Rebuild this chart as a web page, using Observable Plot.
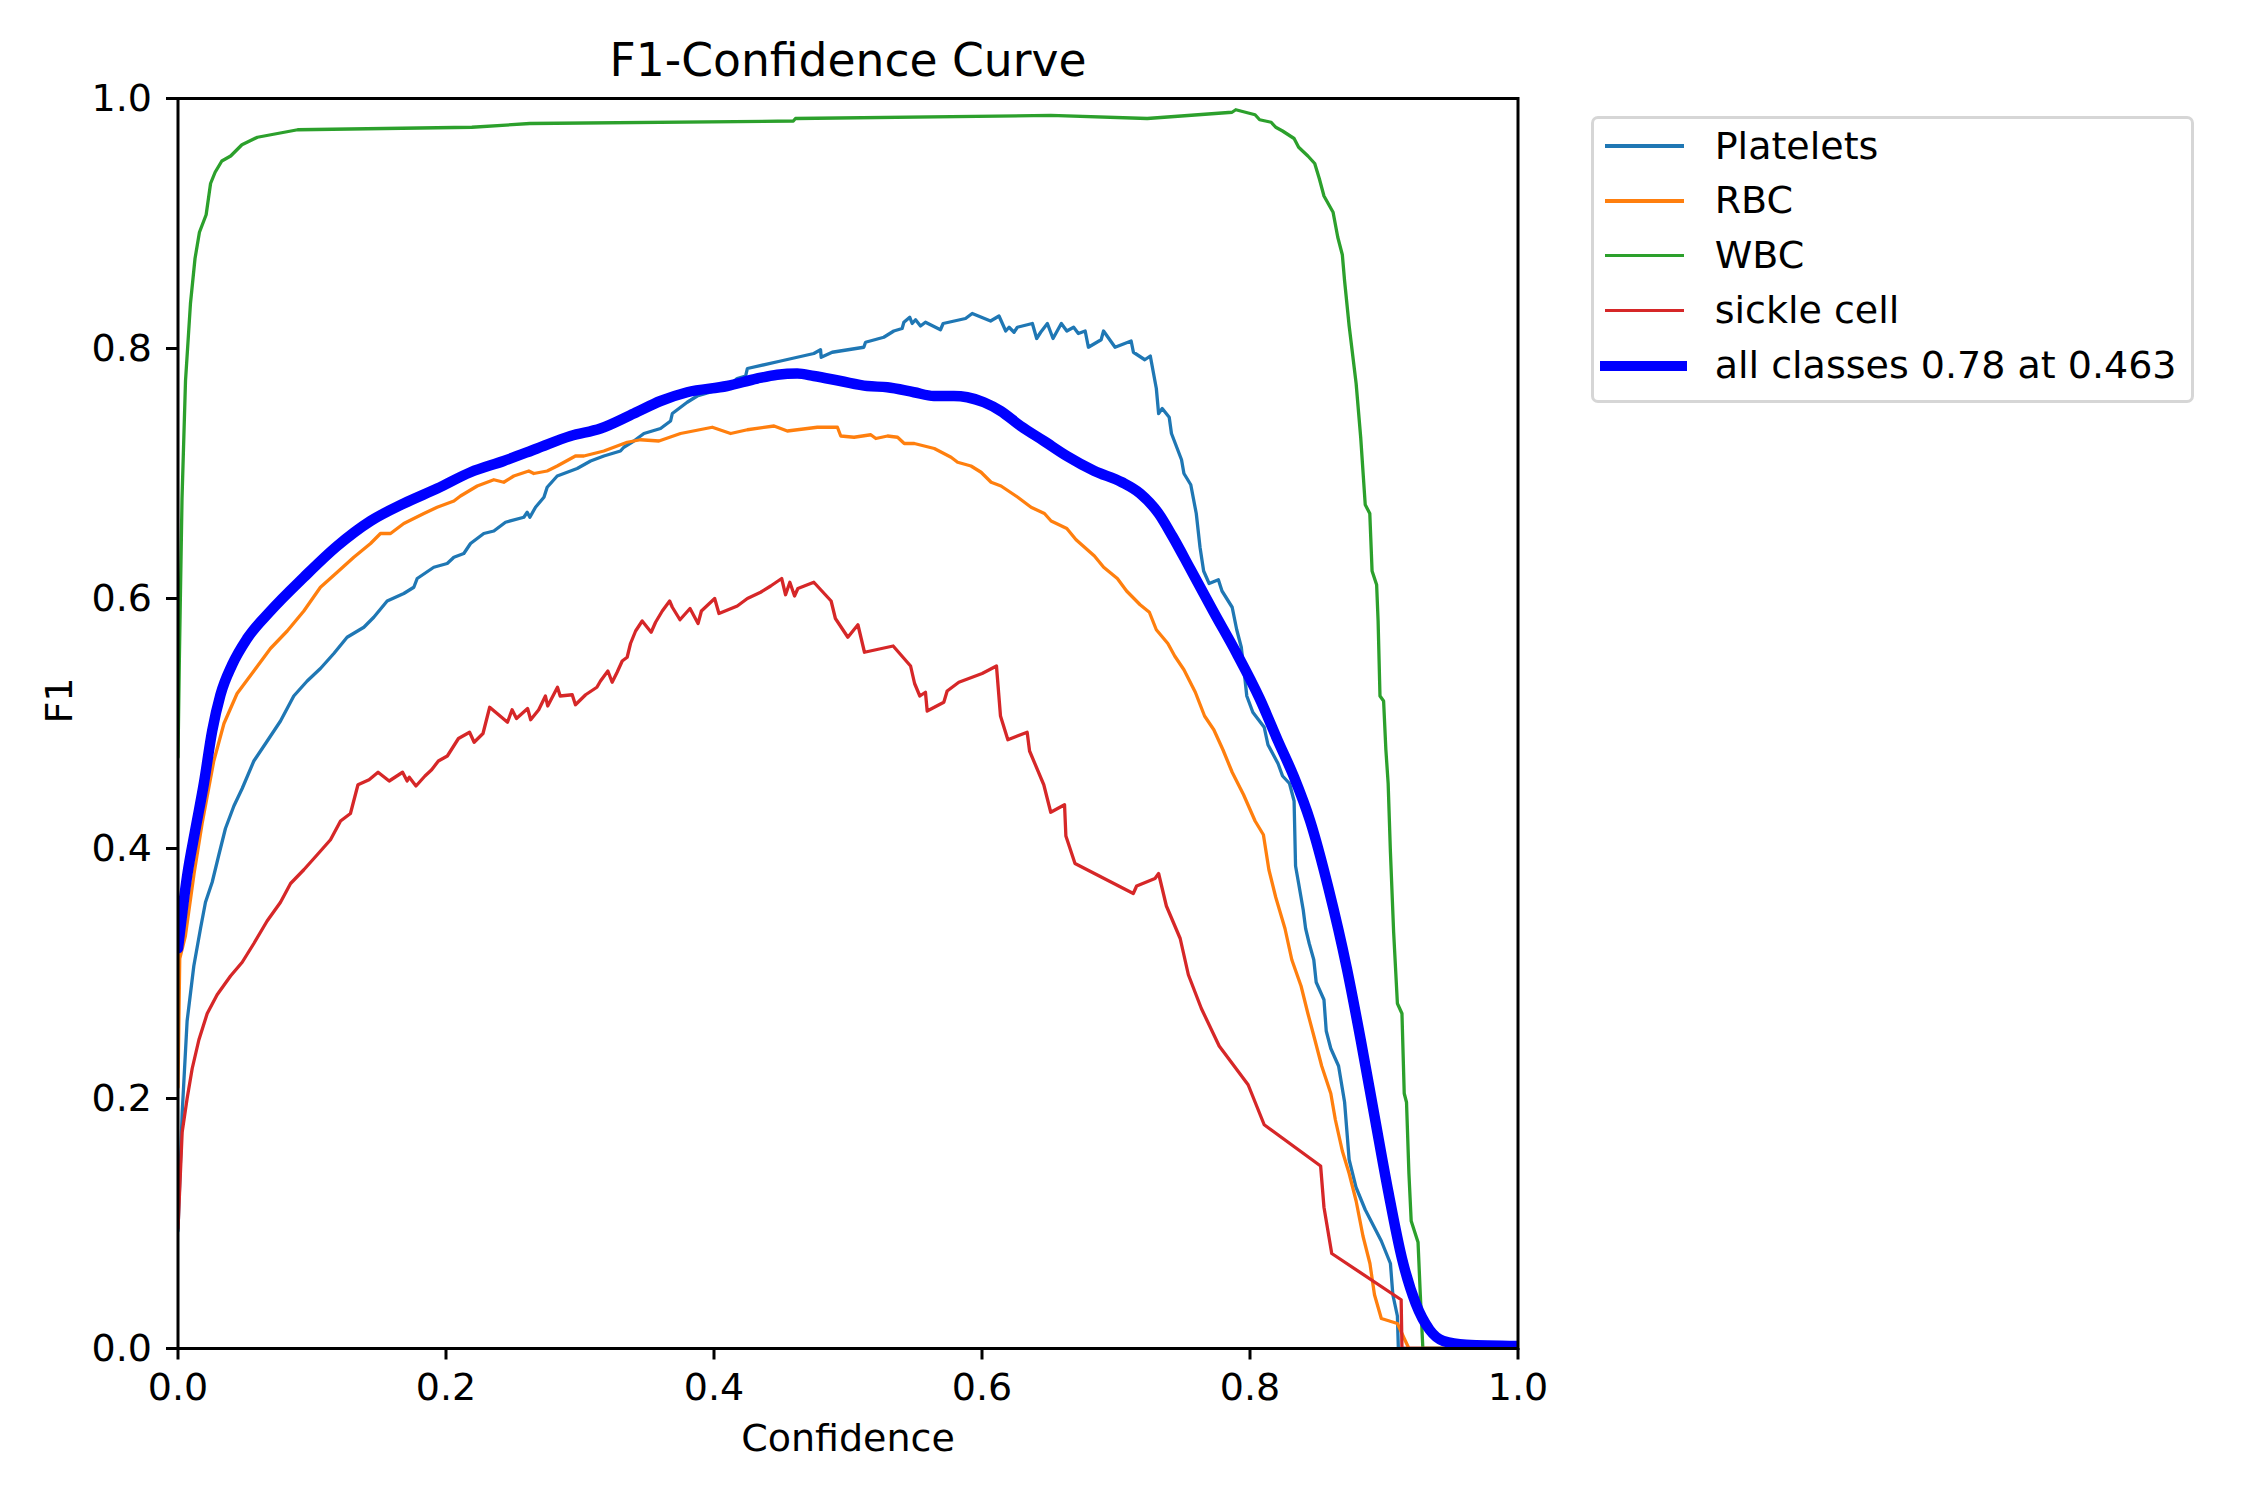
<!DOCTYPE html>
<html>
<head>
<meta charset="utf-8">
<script src="https://cdn.jsdelivr.net/npm/d3@7"></script>
<script src="https://cdn.jsdelivr.net/npm/@observablehq/plot@0.6"></script>
<style>
html, body { margin: 0; padding: 0; background: #fff; }
#wrap { position: relative; width: 2250px; height: 1500px; background: #fff; font-family: "DejaVu Sans", sans-serif; overflow: hidden; }
#wrap svg { position: absolute; left: 0; top: 0; }
#legend { position: absolute; left: 1591px; top: 116px; width: 603px; height: 287px; box-sizing: border-box; border: 3px solid #d6d6d6; border-radius: 7px; background: #fff; }
.sw { position: absolute; }
.lt { position: absolute; font-family: "DejaVu Sans", sans-serif; font-size: 38px; line-height: 38px; white-space: nowrap; color: #000; }
</style>
</head>
<body>
<div id="wrap"></div>
<script>
const titleText = "F1-Confidence Curve";
const xLabel = "Confidence";
const yLabel = "F1";
const xTicks = [0, 0.2, 0.4, 0.6, 0.8, 1.0];
const yTicks = [0, 0.2, 0.4, 0.6, 0.8, 1.0];
const seriesNames = ["Platelets", "RBC", "WBC", "sickle cell"];
const seriesColors = ["#1f77b4", "#ff7f0e", "#2ca02c", "#d62728"];
const allName = "all classes 0.78 at 0.463";
const allColor = "#0000ff";

const platelets = [[0,0.094],[0.0031,0.188],[0.0068,0.262],[0.0118,0.306],[0.0168,0.336],[0.0205,0.357],[0.0255,0.373],[0.0305,0.395],[0.0354,0.416],[0.0417,0.434],[0.0479,0.448],[0.0566,0.470],[0.0666,0.486],[0.0765,0.502],[0.0864,0.522],[0.0964,0.534],[0.1063,0.544],[0.1163,0.556],[0.1262,0.569],[0.1387,0.577],[0.1461,0.585],[0.1561,0.598],[0.1685,0.604],[0.176,0.609],[0.1785,0.616],[0.1909,0.625],[0.2009,0.628],[0.2059,0.633],[0.2133,0.636],[0.2183,0.644],[0.2282,0.652],[0.2357,0.654],[0.2444,0.661],[0.2581,0.665],[0.2606,0.669],[0.2626,0.665],[0.2668,0.673],[0.2731,0.681],[0.2755,0.689],[0.283,0.698],[0.2979,0.704],[0.3079,0.710],[0.3178,0.714],[0.3302,0.718],[0.3327,0.721],[0.3402,0.726],[0.3477,0.732],[0.3601,0.736],[0.3676,0.742],[0.3689,0.748],[0.38,0.757],[0.3875,0.762],[0.4098,0.769],[0.4173,0.776],[0.4236,0.778],[0.4249,0.784],[0.4498,0.790],[0.4745,0.796],[0.4795,0.799],[0.48,0.793],[0.4882,0.797],[0.5118,0.801],[0.5131,0.805],[0.5267,0.809],[0.5342,0.814],[0.5404,0.816],[0.5417,0.821],[0.5461,0.825],[0.5479,0.820],[0.5504,0.823],[0.5541,0.818],[0.5578,0.821],[0.569,0.815],[0.571,0.820],[0.5877,0.824],[0.5927,0.828],[0.6064,0.822],[0.6127,0.826],[0.6177,0.814],[0.6202,0.817],[0.6239,0.813],[0.6264,0.817],[0.6376,0.820],[0.6408,0.808],[0.6438,0.813],[0.6488,0.820],[0.653,0.808],[0.6592,0.820],[0.6633,0.814],[0.6684,0.817],[0.6719,0.812],[0.677,0.814],[0.6794,0.801],[0.6889,0.807],[0.6907,0.814],[0.6993,0.801],[0.7113,0.806],[0.713,0.797],[0.7215,0.791],[0.7256,0.794],[0.7301,0.768],[0.7318,0.748],[0.7345,0.752],[0.7397,0.745],[0.7414,0.732],[0.7489,0.711],[0.7507,0.700],[0.7558,0.691],[0.7599,0.668],[0.7627,0.641],[0.7654,0.622],[0.7695,0.612],[0.7764,0.615],[0.7791,0.606],[0.7867,0.593],[0.7901,0.575],[0.7935,0.561],[0.7962,0.536],[0.7976,0.522],[0.8021,0.509],[0.8106,0.497],[0.8134,0.483],[0.8209,0.468],[0.8243,0.458],[0.8295,0.452],[0.8329,0.438],[0.834,0.386],[0.8363,0.372],[0.8397,0.351],[0.8415,0.336],[0.8442,0.324],[0.8476,0.311],[0.8494,0.293],[0.8552,0.279],[0.8569,0.254],[0.8603,0.240],[0.8661,0.226],[0.8706,0.197],[0.874,0.151],[0.8791,0.129],[0.886,0.111],[0.898,0.086],[0.9048,0.068],[0.9066,0.043],[0.91,0.026],[0.9107,0],[1,0]];

const rbc = [[0,0.209],[0.0013,0.312],[0.0055,0.330],[0.012,0.380],[0.018,0.420],[0.0267,0.470],[0.0343,0.500],[0.0441,0.524],[0.0566,0.542],[0.069,0.560],[0.0815,0.574],[0.0939,0.590],[0.1063,0.609],[0.1188,0.621],[0.1312,0.633],[0.1437,0.644],[0.1511,0.652],[0.1586,0.652],[0.1685,0.660],[0.1835,0.668],[0.1934,0.673],[0.2059,0.678],[0.2108,0.682],[0.2233,0.690],[0.2357,0.695],[0.2431,0.693],[0.2506,0.698],[0.2618,0.702],[0.2655,0.700],[0.2755,0.702],[0.283,0.706],[0.2966,0.714],[0.3029,0.714],[0.3178,0.718],[0.3352,0.725],[0.3452,0.727],[0.3589,0.726],[0.375,0.732],[0.3987,0.737],[0.4124,0.732],[0.4249,0.735],[0.4448,0.738],[0.4547,0.734],[0.4771,0.737],[0.4921,0.737],[0.4946,0.730],[0.5045,0.729],[0.517,0.731],[0.5208,0.728],[0.5295,0.730],[0.537,0.729],[0.542,0.724],[0.5495,0.724],[0.5644,0.720],[0.5769,0.713],[0.5818,0.709],[0.5918,0.706],[0.5993,0.701],[0.6068,0.693],[0.6142,0.690],[0.6267,0.681],[0.6366,0.673],[0.6466,0.668],[0.6516,0.662],[0.6633,0.656],[0.6702,0.647],[0.6839,0.634],[0.6908,0.625],[0.701,0.616],[0.7079,0.606],[0.718,0.595],[0.7249,0.589],[0.7301,0.575],[0.7387,0.564],[0.7438,0.554],[0.7507,0.543],[0.7592,0.525],[0.7661,0.506],[0.773,0.495],[0.7798,0.479],[0.7867,0.461],[0.7952,0.443],[0.8038,0.422],[0.81,0.411],[0.8141,0.383],[0.8192,0.361],[0.8261,0.336],[0.8312,0.311],[0.8381,0.290],[0.8432,0.268],[0.8484,0.247],[0.8535,0.226],[0.8603,0.204],[0.8637,0.183],[0.8689,0.158],[0.874,0.140],[0.8792,0.118],[0.8843,0.090],[0.8895,0.068],[0.8929,0.043],[0.898,0.024],[0.91,0.020],[0.9151,0.008],[0.9186,0],[1,0]];

const wbc = [[0,0.473],[0.001,0.550],[0.003,0.680],[0.0056,0.774],[0.0093,0.836],[0.0127,0.872],[0.016,0.893],[0.021,0.907],[0.0243,0.932],[0.0277,0.941],[0.0327,0.950],[0.0393,0.954],[0.0477,0.963],[0.0593,0.969],[0.0893,0.975],[0.2193,0.977],[0.2626,0.980],[0.4592,0.982],[0.4608,0.984],[0.6513,0.9865],[0.7233,0.984],[0.7866,0.989],[0.7894,0.991],[0.8038,0.987],[0.8072,0.983],[0.8158,0.981],[0.8192,0.977],[0.8243,0.974],[0.8329,0.968],[0.8363,0.961],[0.8432,0.954],[0.8483,0.948],[0.8517,0.936],[0.8552,0.922],[0.862,0.909],[0.8655,0.889],[0.8689,0.875],[0.8706,0.854],[0.874,0.818],[0.8792,0.772],[0.8826,0.729],[0.886,0.675],[0.8894,0.668],[0.8911,0.622],[0.8945,0.611],[0.8956,0.582],[0.897,0.522],[0.8997,0.518],[0.9014,0.479],[0.9031,0.452],[0.9048,0.397],[0.9072,0.333],[0.91,0.276],[0.9134,0.268],[0.9151,0.204],[0.9168,0.197],[0.9186,0.140],[0.9203,0.102],[0.9254,0.085],[0.9271,0.043],[0.929,0],[1,0]];

const sickle = [[0,0.096],[0.0031,0.173],[0.0068,0.200],[0.0106,0.224],[0.0156,0.247],[0.0218,0.268],[0.0292,0.283],[0.0392,0.298],[0.0479,0.309],[0.0566,0.324],[0.0665,0.342],[0.0765,0.357],[0.084,0.372],[0.0939,0.383],[0.1039,0.395],[0.1138,0.407],[0.1213,0.422],[0.1287,0.428],[0.1343,0.451],[0.1426,0.455],[0.1493,0.461],[0.1576,0.454],[0.1676,0.461],[0.171,0.454],[0.1726,0.457],[0.1776,0.450],[0.1843,0.458],[0.1893,0.463],[0.1943,0.470],[0.201,0.474],[0.2093,0.488],[0.2176,0.493],[0.221,0.485],[0.2276,0.492],[0.2326,0.513],[0.2459,0.501],[0.2493,0.511],[0.2526,0.504],[0.2609,0.512],[0.2632,0.503],[0.2692,0.511],[0.2742,0.522],[0.2759,0.514],[0.2832,0.529],[0.2852,0.522],[0.2942,0.523],[0.2966,0.515],[0.3042,0.523],[0.3126,0.529],[0.3153,0.534],[0.3208,0.542],[0.324,0.533],[0.3277,0.541],[0.3315,0.550],[0.3352,0.553],[0.3377,0.564],[0.3415,0.574],[0.3464,0.582],[0.3531,0.573],[0.3564,0.581],[0.3614,0.590],[0.3669,0.598],[0.3689,0.593],[0.3746,0.583],[0.3821,0.592],[0.3881,0.580],[0.3906,0.590],[0.4005,0.600],[0.4037,0.588],[0.4174,0.594],[0.4249,0.600],[0.4348,0.605],[0.4423,0.610],[0.4505,0.616],[0.4534,0.603],[0.4566,0.613],[0.4601,0.602],[0.4626,0.608],[0.4745,0.613],[0.4874,0.598],[0.4906,0.584],[0.4999,0.569],[0.5074,0.579],[0.5123,0.557],[0.5337,0.562],[0.5467,0.546],[0.5497,0.532],[0.5536,0.522],[0.5578,0.525],[0.5591,0.510],[0.5715,0.517],[0.574,0.526],[0.5827,0.533],[0.6001,0.540],[0.6108,0.546],[0.6138,0.506],[0.6193,0.487],[0.6337,0.493],[0.6355,0.478],[0.6461,0.451],[0.6513,0.429],[0.6616,0.435],[0.6626,0.410],[0.6694,0.388],[0.7129,0.364],[0.7154,0.370],[0.7291,0.376],[0.7318,0.380],[0.7376,0.354],[0.7479,0.328],[0.754,0.299],[0.7637,0.272],[0.777,0.242],[0.7986,0.211],[0.8106,0.179],[0.8527,0.146],[0.8552,0.113],[0.861,0.076],[0.9128,0.039],[0.9134,0],[1,0]];

const allClasses = [[0,0.320],[0.0068,0.378],[0.0131,0.416],[0.0193,0.452],[0.0255,0.494],[0.0317,0.523],[0.0404,0.547],[0.0516,0.568],[0.069,0.590],[0.0939,0.617],[0.1188,0.642],[0.1437,0.662],[0.1685,0.676],[0.1934,0.688],[0.2183,0.701],[0.2431,0.710],[0.268,0.720],[0.2929,0.730],[0.3153,0.736],[0.3402,0.748],[0.3601,0.758],[0.38,0.765],[0.4098,0.770],[0.4323,0.776],[0.4472,0.779],[0.4621,0.780],[0.4745,0.778],[0.4944,0.774],[0.5144,0.770],[0.5293,0.769],[0.5492,0.765],[0.5641,0.762],[0.579,0.762],[0.589,0.761],[0.6014,0.757],[0.6139,0.750],[0.6288,0.738],[0.6462,0.726],[0.6633,0.714],[0.6839,0.702],[0.7044,0.693],[0.718,0.684],[0.7318,0.668],[0.742,0.650],[0.7558,0.623],[0.773,0.589],[0.7901,0.556],[0.8072,0.520],[0.8209,0.486],[0.8329,0.457],[0.8449,0.422],[0.8586,0.368],[0.8723,0.304],[0.8826,0.247],[0.8929,0.186],[0.9031,0.126],[0.9134,0.072],[0.9237,0.036],[0.934,0.015],[0.9443,0.006],[0.9614,0.003],[1,0.002]];

const classSeries = [platelets, rbc, wbc, sickle];
const classRows = classSeries.flatMap((s, i) => s.map(([x, y]) => ({name: seriesNames[i], x, y})));
const allRows = allClasses.map(([x, y]) => ({x, y}));

const fontSize = 38;

const chart = Plot.plot({
  width: 2250,
  height: 1500,
  marginLeft: 177.5,
  marginRight: 732.5,
  marginTop: 98,
  marginBottom: 152,
  style: {fontFamily: "DejaVu Sans", fontSize: fontSize + "px", background: "#ffffff", color: "#000000"},
  x: {domain: [0, 1]},
  y: {domain: [0, 1]},
  color: {domain: seriesNames, range: seriesColors},
  marks: [
    Plot.line(classRows, {x: "x", y: "y", z: "name", stroke: "name", strokeWidth: 3.3, strokeLinejoin: "round", clip: true}),
    Plot.line(allRows, {x: "x", y: "y", stroke: allColor, strokeWidth: 10.5, strokeLinejoin: "round", curve: "monotone-x", clip: true}),
    Plot.frame({stroke: "#000000", strokeWidth: 3}),
    Plot.axisX({ticks: xTicks, tickSize: 11.5, tickPadding: 13.5, strokeWidth: 3, tickFormat: d3.format(".1f"), label: null, fontSize: fontSize}),
    Plot.axisY({ticks: yTicks, tickSize: 11.5, tickPadding: 14.5, strokeWidth: 3, tickFormat: d3.format(".1f"), label: null, fontSize: fontSize}),
    Plot.text([titleText], {text: d => d, frameAnchor: "top", dy: -36.6, lineAnchor: "middle", fontSize: 45.6}),
    Plot.text([xLabel], {text: d => d, frameAnchor: "bottom", dy: 90.5, lineAnchor: "middle", fontSize: fontSize}),
    Plot.text([yLabel], {text: d => d, frameAnchor: "left", dx: -118, rotate: -90, lineAnchor: "middle", fontSize: fontSize})
  ]
});

const wrap = document.getElementById("wrap");
wrap.appendChild(chart);

// Legend (HTML), placed to the right of the axes
const legend = d3.select(wrap).append("div").attr("id", "legend");
const legendItems = seriesNames.map((n, i) => ({name: n, color: seriesColors[i], thick: false}))
  .concat([{name: allName, color: allColor, thick: true}]);
const rowStep = 54.9, firstCenter = 30, border = 3;
legendItems.forEach((it, i) => {
  const c = firstCenter + rowStep * i - border;
  const lw = it.thick ? 10 : 3.3;
  legend.append("div").attr("class", "sw")
    .style("left", (it.thick ? 6.4 : 10.5) + "px")
    .style("width", (it.thick ? 86.6 : 79.5) + "px")
    .style("top", (c - lw / 2) + "px")
    .style("height", lw + "px")
    .style("background", it.color);
  legend.append("div").attr("class", "lt")
    .style("left", "120.7px")
    .style("top", (c - 19.5) + "px")
    .text(it.name);
});
</script>
</body>
</html>
